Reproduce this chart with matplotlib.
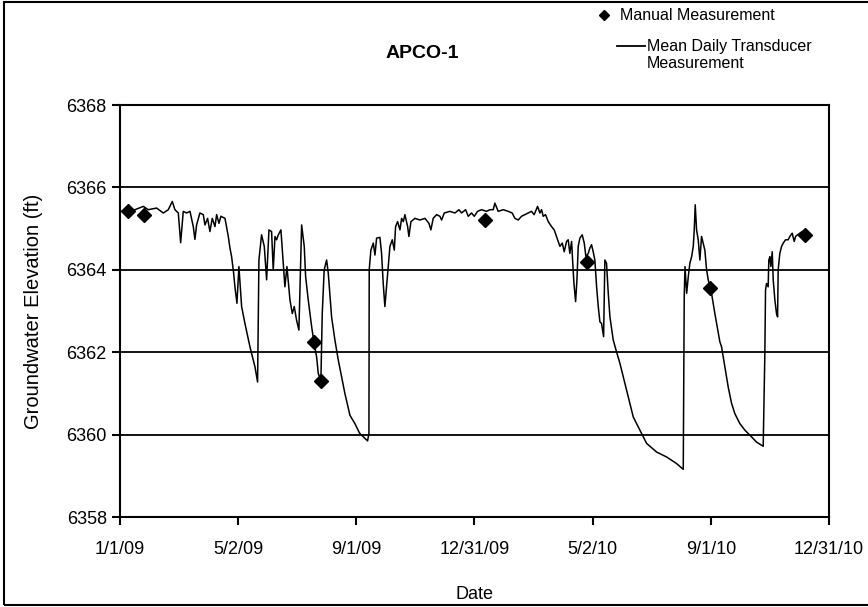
import numpy as np
import matplotlib
matplotlib.use("Agg")
import matplotlib.pyplot as plt
from matplotlib.lines import Line2D
from matplotlib.patches import Rectangle

plt.rcParams['font.family'] = ['Liberation Sans', 'DejaVu Sans']

# days since 1/1/09 and groundwater elevation (ft)
trans_day = [1.0, 7.9, 15.4, 24.0, 29.1, 37.7, 44.6, 49.7, 53.8, 56.5, 60.0, 62.4, 65.1, 68.5,
             72.0, 75.4, 77.1, 78.8, 82.2, 85.7, 87.4, 90.1, 92.5, 94.9, 97.7, 99.4, 101.8, 103.8,
             108.0, 111.4, 113.1, 114.8, 116.9, 118.2, 120.3, 122.3, 125.1, 128.5, 133.7, 138.8,
             141.5, 142.9, 145.6, 148.4, 150.8, 153.2, 155.9, 157.6, 159.4, 161.1, 162.8, 165.5,
             167.9, 169.6, 171.7, 174.8, 177.2, 179.2, 181.6, 184.0, 186.8, 189.5, 190.9, 193.6,
             197.1, 199.4, 202.2, 203.9, 206.6, 208.0, 210.0, 212.5, 214.2, 217.6, 221.0, 224.5,
             227.9, 231.3, 236.5, 241.6, 245.7, 246.7, 251.9, 254.6, 256.0, 256.3, 258.0, 260.5,
             262.2, 263.9, 267.3, 269.0, 270.7, 272.4, 274.1, 275.9, 277.6, 280.0, 282.1, 283.4,
             285.5, 287.9, 289.6, 291.3, 293.0, 295.8, 297.1, 299.2, 303.3, 308.4, 313.6, 317.7,
             319.7, 322.1, 325.6, 329.0, 330.7, 333.5, 339.3, 344.4, 348.5, 351.3, 355.4, 358.1,
             361.5, 364.3, 367.7, 371.8, 376.9, 380.4, 383.8, 385.5, 388.9, 394.1, 399.2, 403.3,
             406.1, 409.5, 412.9, 416.4, 419.8, 423.2, 425.9, 429.4, 431.8, 433.5, 435.2, 437.6,
             440.4, 443.8, 446.5, 448.9, 450.7, 452.4, 454.8, 456.8, 459.2, 460.9, 462.6, 464.4,
             465.4, 466.8, 468.5, 469.9, 471.2, 472.9, 475.3, 477.4, 479.1, 481.5, 483.2, 484.9,
             486.6, 488.3, 490.1, 491.8, 493.5, 495.2, 497.3, 498.6, 500.3, 502.1, 503.8, 507.2,
             510.6, 514.1, 517.5, 520.9, 524.3, 527.8, 532.9, 538.0, 541.5, 551.8, 562.1, 572.4,
             579.2, 580.2, 581.0, 582.7, 584.4, 586.0, 587.8, 589.5, 590.5, 591.5, 592.9, 594.6,
             596.3, 598.0, 599.7, 601.4, 603.2, 604.9, 606.6, 608.3, 611.7, 616.8, 618.6, 622.0,
             625.4, 628.9, 632.3, 637.4, 642.6, 647.7, 654.6, 661.4, 662.4, 663.1, 663.8, 664.8,
             666.5, 667.2, 668.3, 669.3, 670.7, 671.7, 673.4, 675.1, 676.2, 676.8, 678.5, 680.3,
             682.0, 684.4, 687.1, 688.8, 691.2, 693.3, 694.7, 696.7, 699.1, 701.5, 704.3]
trans_elev = [6365.42, 6365.44, 6365.46, 6365.54, 6365.46, 6365.50, 6365.38, 6365.46, 6365.66,
              6365.46, 6365.38, 6364.66, 6365.42, 6365.38, 6365.42, 6365.05, 6364.74, 6365.09,
              6365.38, 6365.34, 6365.09, 6365.25, 6364.93, 6365.25, 6365.05, 6365.34, 6365.13,
              6365.30, 6365.25, 6364.81, 6364.53, 6364.32, 6363.92, 6363.59, 6363.19, 6364.08,
              6363.11, 6362.70, 6362.13, 6361.65, 6361.28, 6364.24, 6364.85, 6364.57, 6363.76,
              6364.97, 6364.93, 6364.00, 6364.81, 6364.73, 6364.85, 6364.97, 6364.16, 6363.59,
              6364.08, 6363.27, 6362.94, 6363.11, 6362.78, 6362.54, 6365.09, 6364.57, 6363.84,
              6363.27, 6362.62, 6362.26, 6361.89, 6361.49, 6361.32, 6362.94, 6364.00, 6364.24,
              6363.92, 6362.86, 6362.30, 6361.81, 6361.41, 6361.00, 6360.47, 6360.27, 6360.07,
              6360.03, 6359.91, 6359.85, 6360.03, 6364.00, 6364.48, 6364.65, 6364.36, 6364.77,
              6364.79, 6364.40, 6363.67, 6363.11, 6363.59, 6364.08, 6364.57, 6364.73, 6364.48,
              6365.05, 6365.17, 6364.97, 6365.25, 6365.17, 6365.34, 6365.05, 6364.81, 6365.17,
              6365.25, 6365.21, 6365.25, 6365.13, 6364.97, 6365.25, 6365.34, 6365.30, 6365.21,
              6365.38, 6365.42, 6365.38, 6365.46, 6365.38, 6365.46, 6365.30, 6365.38, 6365.30,
              6365.42, 6365.46, 6365.42, 6365.46, 6365.46, 6365.62, 6365.42, 6365.46, 6365.42,
              6365.38, 6365.25, 6365.21, 6365.30, 6365.34, 6365.38, 6365.42, 6365.34, 6365.54,
              6365.38, 6365.46, 6365.30, 6365.34, 6365.17, 6365.05, 6364.97, 6364.81, 6364.69,
              6364.57, 6364.65, 6364.44, 6364.69, 6364.73, 6364.40, 6364.69, 6364.24, 6363.67,
              6363.23, 6363.76, 6364.57, 6364.77, 6364.85, 6364.65, 6364.32, 6364.40, 6364.53,
              6364.61, 6364.44, 6364.24, 6363.59, 6363.11, 6362.74, 6362.70, 6362.38, 6364.24,
              6364.16, 6363.43, 6362.86, 6362.30, 6362.01, 6361.73, 6361.41, 6361.08, 6360.76,
              6360.43, 6360.19, 6359.95, 6359.79, 6359.58, 6359.46, 6359.30, 6359.16, 6363.35,
              6364.08, 6363.43, 6363.84, 6364.16, 6364.32, 6364.57, 6364.97, 6365.58, 6364.97,
              6364.73, 6364.24, 6364.81, 6364.65, 6364.48, 6364.00, 6363.76, 6363.55, 6363.43,
              6362.94, 6362.26, 6362.13, 6361.65, 6361.16, 6360.76, 6360.51, 6360.27, 6360.11,
              6359.99, 6359.82, 6359.72, 6361.00, 6361.97, 6363.51, 6363.67, 6363.59, 6364.24,
              6364.32, 6364.08, 6364.44, 6363.76, 6363.27, 6362.94, 6362.86, 6364.00, 6364.40,
              6364.57, 6364.65, 6364.73, 6364.73, 6364.81, 6364.89, 6364.69, 6364.81, 6364.85,
              6364.89, 6364.93, 6364.93]

manual_day = [7.9, 25.0, 199.4, 206.6, 375.3, 480.2, 606.6, 704.3]
manual_elev = [6365.42, 6365.34, 6362.26, 6361.31, 6365.21, 6364.20, 6363.55, 6364.85]

date_labels = ['1/1/09', '5/2/09', '9/1/09', '12/31/09', '5/2/10', '9/1/10', '12/31/10']
y_ticks = [6358, 6360, 6362, 6364, 6366, 6368]

fig = plt.figure(figsize=(8.68, 6.07), dpi=100)
ax = fig.add_axes([0.1382, 0.148, 0.8168, 0.679])

ax.plot(trans_day, trans_elev, color='black', lw=1.1)
ax.plot(manual_day, manual_elev, ls='none', marker='D', ms=7.5, color='black')

ax.set_xlim(0, 729)
ax.set_ylim(6358, 6368)
ax.set_xticks(np.linspace(0, 729, len(date_labels)))
ax.set_xticklabels(date_labels)
ax.set_yticks(y_ticks)
ax.yaxis.grid(True, color='black', lw=1.3)
ax.set_axisbelow(True)
for s in ax.spines.values():
    s.set_linewidth(1.5)
    s.set_color('black')
ax.tick_params(axis='both', direction='out', length=6, width=1.5, labelsize=13, colors='black')
ax.tick_params(axis='x', pad=11)

ax.set_xlabel('Date', fontsize=13, labelpad=20)
ax.set_ylabel('Groundwater Elevation (ft)', fontsize=14.5, labelpad=17)
fig.text(0.487, 0.912, 'APCO-1', ha='center', va='center', fontsize=14, fontweight='bold')

# legend keys drawn by hand to match the placement
W, H = 868.0, 607.0
fig.add_artist(Line2D([604 / W], [1 - 15 / H], marker='D', ms=5, color='black', ls='none'))
fig.text(620 / W, 1 - 15 / H, 'Manual Measurement', fontsize=11.5, va='center', ha='left')
fig.add_artist(Line2D([617 / W, 645 / W], [1 - 46 / H, 1 - 46 / H], color='black', lw=1.3))
fig.text(647 / W, 1 - 55 / H, 'Mean Daily Transducer\nMeasurement', fontsize=11.5,
         va='center', ha='left', linespacing=1.15)

# outer chart border
fig.add_artist(Rectangle((4 / W, 2 / H), 1.1, 1 - 4 / H, transform=fig.transFigure,
                         fill=False, ec='black', lw=1.5))

fig.savefig('out.png', dpi=100)
